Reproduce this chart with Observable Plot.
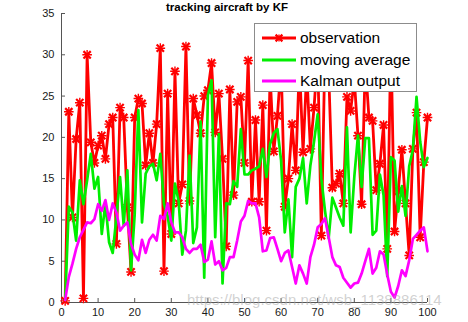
<!DOCTYPE html>
<html>
<head>
<meta charset="utf-8">
<script src="https://cdn.jsdelivr.net/npm/d3@7"></script>
<script src="https://cdn.jsdelivr.net/npm/@observablehq/plot@0.6"></script>
<style>
  html, body { margin: 0; padding: 0; background: #fff; }
  #wrap { position: relative; width: 468px; height: 322px; overflow: hidden; font-family: "Liberation Sans", Arial, sans-serif; }
  #title { position: absolute; top: 1px; left: 0; width: 454px; text-align: center; font-weight: bold; font-size: 11.5px; color: #000; }
  #legend { position: absolute; left: 254px; top: 23px; width: 161px; height: 67px; background: #fff; border: 1px solid #8c8c8c; }
  .row { position: absolute; left: 0; height: 20px; display: flex; align-items: center; }
  .row span { font-size: 15.5px; color: #000; margin-left: 3px; }
  #wm { position: absolute; left: 187px; top: 291px; font-size: 15px; line-height: 17px; color: rgba(170,170,170,0.55); white-space: nowrap; }
</style>
</head>
<body>
<div id="wrap">
  <div id="chart"></div>
  <div id="title">tracking aircraft by KF</div>
  <div id="legend"></div>
  <div id="wm">https://blog.csdn.net/wsb_1138886114</div>
</div>
<script>
const titleText = "tracking aircraft by KF";
const seriesNames = ["observation", "moving average", "Kalman output"];
const seriesColors = ["#ff0000", "#00ee00", "#ff00ff"];
const xTicks = [0, 10, 20, 30, 40, 50, 60, 70, 80, 90, 100];
const yTicks = [0, 5, 10, 15, 20, 25, 30, 35];
const steps = d3.range(1, 101);

const observation = [
  0.2, 23.1, 10.3, 19.8, 24.2, 0.5, 30.0, 19.4, 16.9, 19.0,
  20.2, 17.4, 21.6, 22.4, 7.1, 23.6, 22.4, 11.5, 3.7, 22.4,
  24.7, 24.1, 16.6, 20.5, 16.9, 21.6, 30.8, 3.8, 25.3, 8.3,
  28.0, 12.0, 14.3, 31.0, 12.3, 24.7, 22.7, 20.5, 25.0, 25.7,
  29.0, 20.6, 25.3, 17.4, 6.8, 25.8, 13.0, 24.3, 24.9, 16.9,
  29.3, 12.2, 22.1, 12.2, 23.9, 8.7, 27.5, 18.3, 22.6, 29.0,
  11.6, 15.0, 21.6, 16.0, 29.0, 18.2, 28.0, 18.6, 23.6, 30.0,
  8.1, 31.0, 28.0, 13.9, 14.4, 15.6, 12.0, 24.9, 23.2, 27.0,
  20.2, 11.9, 29.0, 22.4, 22.0, 13.6, 16.8, 21.5, 6.5, 32.0,
  8.6, 13.5, 18.5, 12.0, 5.7, 18.6, 23.0, 7.9, 17.0, 22.4
];
const movingAverage = [
  0.3, 11.6, 10.9, 7.5, 14.8, 11.9, 14.8, 18.0, 13.8, 15.2,
  8.3, 12.0, 7.3, 6.0, 10.3, 15.2, 9.3, 16.0, 3.9, 10.7,
  23.3, 9.7, 15.6, 16.5, 16.8, 14.8, 18.0, 11.9, 10.5, 7.5,
  14.4, 12.3, 5.8, 8.7, 17.8, 7.2, 9.1, 21.9, 3.0, 25.1,
  26.9, 7.9, 20.4, 2.3, 12.0, 11.9, 14.7, 14.0, 21.0, 15.5,
  15.5, 16.0, 16.2, 16.5, 18.6, 15.2, 19.2, 20.5, 21.0, 17.2,
  8.5, 12.5, 5.5, 14.0, 15.0, 17.5, 12.0, 16.6, 19.5, 22.8,
  15.0, 11.1, 7.8, 12.7, 11.5, 10.3, 9.3, 21.2, 8.5, 15.2,
  20.2, 14.0, 19.9, 19.9, 8.2, 8.7, 15.5, 13.0, 3.2, 17.6,
  17.2, 11.0, 14.1, 10.5, 16.5, 18.5, 24.9, 19.5, 16.4, 17.5
];
const kalmanOutput = [
  0.3, 3.1, 4.7, 6.5, 7.9, 8.8, 9.7, 9.6, 10.1, 11.9,
  11.1, 12.4, 10.0, 12.0, 10.9, 8.7, 9.3, 9.7, 7.1, 5.8,
  5.1, 7.6, 6.0, 7.6, 8.2, 7.5, 10.5, 10.1, 12.0, 9.7,
  8.5, 8.5, 7.9, 6.5, 6.0, 6.5, 6.5, 7.0, 4.9, 5.2,
  7.4, 4.6, 5.0, 3.9, 4.2, 5.5, 5.5, 7.5, 9.8, 10.5,
  12.3, 12.0, 12.0, 10.3, 6.2, 6.3, 7.8, 7.9, 6.5, 5.0,
  6.0, 6.3, 4.3, 2.3, 4.5, 3.5, 2.3, 5.5, 7.0, 9.1,
  9.5, 10.2, 7.9, 5.5, 4.5, 4.3, 3.0, 2.4, 1.8, 2.3,
  2.4, 3.5, 5.0, 6.5, 3.5, 4.2, 6.2, 5.8, 3.4, 1.3,
  0.6, 2.0, 3.9, 3.2, 5.1, 7.7, 8.2, 8.7, 9.1, 6.2
];

const chart = Plot.plot({
  width: 468,
  height: 322,
  marginLeft: 61,
  marginRight: 41,
  marginTop: 13,
  marginBottom: 20,
  x: { domain: [0, 100] },
  y: { domain: [0, 35] },
  style: { fontFamily: "'Liberation Sans', Arial, sans-serif", fontSize: "11px", color: "#1a1a1a", background: "#fff" },
  marks: [
    Plot.ruleY([0], { stroke: "#555", strokeWidth: 1 }),
    Plot.ruleX([0], { stroke: "#555", strokeWidth: 1 }),
    Plot.axisX({ ticks: xTicks, tickSize: -4, tickPadding: 10, stroke: "#555", fontSize: 11, label: null, tickFormat: d => String(d) }),
    Plot.axisY({ ticks: yTicks, tickSize: -4, tickPadding: 11, stroke: "#555", fontSize: 11, label: null, tickFormat: d => String(d) }),
    Plot.line(steps, { x: d => d, y: d => observation[d - 1], stroke: seriesColors[0], strokeWidth: 2.8 }),
    Plot.dot(steps, { x: d => d, y: d => observation[d - 1], symbol: "times", r: 3.4, stroke: seriesColors[0], strokeWidth: 2.2 }),
    Plot.dot(steps, { x: d => d, y: d => observation[d - 1], symbol: "plus", r: 3.2, stroke: seriesColors[0], strokeWidth: 1.4 }),
    Plot.line(steps, { x: d => d, y: d => movingAverage[d - 1], stroke: seriesColors[1], strokeWidth: 2.7 }),
    Plot.line(steps, { x: d => d, y: d => kalmanOutput[d - 1], stroke: seriesColors[2], strokeWidth: 2.7 })
  ]
});
document.getElementById("chart").appendChild(chart);

// legend
const legend = document.getElementById("legend");
seriesNames.forEach((name, i) => {
  const row = document.createElement("div");
  row.className = "row";
  row.style.top = (4 + i * 21.5) + "px";
  row.style.left = "6px";
  const svg = d3.create("svg").attr("width", 36).attr("height", 20);
  svg.append("line").attr("x1", 1).attr("x2", 35).attr("y1", 10).attr("y2", 10)
    .attr("stroke", seriesColors[i]).attr("stroke-width", 2.8);
  if (i === 0) {
    const g = svg.append("g").attr("transform", "translate(18,10)").attr("stroke", seriesColors[0]);
    const r = 3.4;
    g.append("path").attr("stroke-width", 2.2).attr("d", `M${-r},${-r}L${r},${r}M${-r},${r}L${r},${-r}`);
    g.append("path").attr("stroke-width", 1.4).attr("d", `M0,${-r}L0,${r}`);
  }
  row.appendChild(svg.node());
  const label = document.createElement("span");
  label.textContent = name;
  row.appendChild(label);
  legend.appendChild(row);
});
</script>
</body>
</html>
